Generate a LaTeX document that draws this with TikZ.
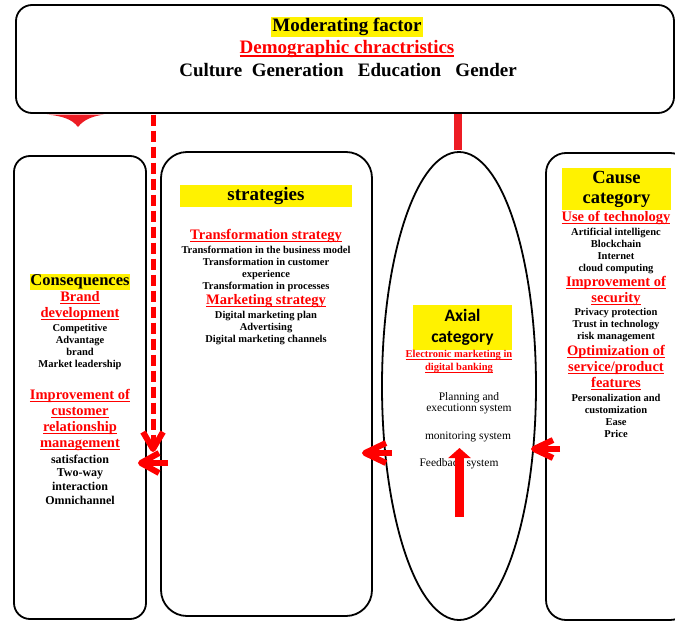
\documentclass[tikz,border=0pt]{standalone}
\usepackage{fontspec}
\setmainfont{Liberation Serif}
\newfontfamily\calfont{Carlito}
\usetikzlibrary{shapes.geometric,arrows.meta}
\definecolor{redA}{RGB}{237,28,36}
\newcommand\ulr[1]{\setbox0=\hbox{#1}\leavevmode\rlap{\rule[-0.16em]{\wd0}{0.075em}}\box0}
\begin{document}
\begin{tikzpicture}[x=1pt,y=-1pt,
  box/.style={draw, line width=1.8pt, inner sep=0pt},
  hl/.style={fill=yellow, inner sep=1pt},
  head/.style={text=red, font=\fontsize{14.5}{16}\selectfont\bfseries, align=center, inner sep=0pt},
  small/.style={font=\fontsize{10.5}{12}\selectfont\bfseries, align=center, inner sep=0pt},
  shaft/.style={draw=red, line width=5.5pt},
  chevarm/.style={draw=red, line width=6pt, line join=round},
  dashline/.style={draw=red, line width=5pt, dash pattern=on 11pt off 5pt}
]
\useasboundingbox (0,0) rectangle (675,621);
\clip (0,0) rectangle (675,621);

% boxes
\node[box, rounded corners=16pt, minimum width=658pt, minimum height=108pt] (top) at (345,59) {};
\node[box, rounded corners=16pt, minimum width=132pt, minimum height=463pt] (cons) at (80,387.5) {};
\node[box, rounded corners=26pt, minimum width=211pt, minimum height=464pt] (strat) at (266.5,384) {};
\node[box, ellipse, minimum width=154pt, minimum height=468pt] (ell) at (459,386) {};
\node[box, rounded corners=20pt, minimum width=144pt, minimum height=467pt] (cause) at (618,386.5) {};

% top box texts
\node[hl, font=\fontsize{19}{21}\selectfont\bfseries] (mf) at (347,27) {Moderating factor};
\node[head, font=\fontsize{19}{21}\selectfont\bfseries] (demo) at (347,49) {\ulr{Demographic chractristics}};
\node[inner sep=0pt, font=\fontsize{19}{21}\selectfont\bfseries] (cg) at (348,70) {Culture\hspace{0.5em}Generation\hspace{0.75em}Education\hspace{0.75em}Gender};

% consequences
\node[hl, inner sep=0.5pt, font=\fontsize{16.5}{18}\selectfont\bfseries] (consT) at (80,282) {Consequences};
\node[head] (bd) at (80,306) {\ulr{Brand}\\\ulr{development}};
\node[small] (bdl) at (80,346.5) {Competitive\\Advantage\\brand\\Market leadership};
\node[head] (crm) at (80,420) {\ulr{Improvement of}\\\ulr{customer}\\\ulr{relationship}\\\ulr{management}};
\node[small, font=\fontsize{12}{13.7}\selectfont\bfseries] (crml) at (80,479.5) {satisfaction\\Two-way\\interaction\\Omnichannel};

% strategies
\node[fill=yellow, minimum width=172pt, minimum height=22pt, inner sep=0pt, font=\fontsize{19}{20}\selectfont\bfseries] (stratT) at (266,196) {strategies};
\node[head] (ts) at (266,236) {\ulr{Transformation strategy}};
\node[small] (tsl) at (266,269) {Transformation in the business model\\Transformation in customer\\experience\\Transformation in processes};
\node[head] (ms) at (266,301) {\ulr{Marketing strategy}};
\node[small] (msl) at (266,328) {Digital marketing plan\\Advertising\\Digital marketing channels};

% axial
\node[fill=yellow, minimum width=99pt, minimum height=45pt, inner sep=0pt, align=center, font=\calfont\bfseries\fontsize{17.5}{21}\selectfont] (axT) at (462.5,327.5) {Axial\\category};
\node[head, font=\fontsize{10.5}{13}\selectfont\bfseries] (emdb) at (459,362) {\ulr{Electronic marketing in}\\\ulr{digital banking}};
\node[align=center, inner sep=0pt, font=\fontsize{11.5}{11.5}\selectfont] (pes) at (469,403) {Planning and\\executionn system};
\node[inner sep=0pt, font=\fontsize{11.5}{12}\selectfont] (mon) at (468,437) {monitoring system};
\node[inner sep=0pt, font=\fontsize{11.5}{12}\selectfont] (fb) at (459,464) {Feedback system};

% cause
\node[fill=yellow, minimum width=109pt, minimum height=42pt, inner sep=0pt, align=center, font=\fontsize{18.5}{20}\selectfont\bfseries] (causeT) at (616.5,189) {Cause\\category};
\node[head] (ut1) at (616,218) {\ulr{Use of technology}};
\node[small] (utl) at (616,250.5) {Artificial intelligenc\\Blockchain\\Internet\\cloud computing};
\node[head] (is) at (616,291) {\ulr{Improvement of}\\\ulr{security}};
\node[small] (isl) at (616,325.5) {Privacy protection\\Trust in technology\\risk management};
\node[head] (osp) at (616,368) {\ulr{Optimization of}\\\ulr{service/product}\\\ulr{features}};
\node[small] (ospl) at (616,416) {Personalization and\\customization\\Ease\\Price};

% connectors
\coordinate (a1s) at (392,453); \coordinate (a1e) at (365,453);
\coordinate (a2s) at (560,449); \coordinate (a2e) at (534,449);
\coordinate (dtop) at (153,114.5); \coordinate (dtip) at (153,449);
\coordinate (a3s) at (168,463); \coordinate (a3e) at (141,463);
\coordinate (ub) at (459.5,517); \coordinate (ut) at (459.5,448);

\draw[redA, line width=8pt] (top.south -| 457.5,0) -- ([yshift=1pt]ell.north -| 457.5,0);
\fill[redA] (47,114.5) .. controls (62,116) and (72,119) .. (78,127) .. controls (84,119) and (94,116) .. (104,114.5) -- cycle;

\draw[dashline] (dtop) -- (dtip);
\draw[chevarm] ([shift={(-10,-17)}]dtip) -- (dtip) -- ([shift={(10,-17)}]dtip);

\draw[shaft] (a3s) -- (a3e);
\draw[chevarm] ([shift={(18,-10)}]a3e) -- (a3e) -- ([shift={(18,10)}]a3e);

\draw[shaft] (a1s) -- (a1e);
\draw[chevarm] ([shift={(21,-10)}]a1e) -- (a1e) -- ([shift={(21,10)}]a1e);

\draw[shaft] (a2s) -- (a2e);
\draw[chevarm] ([shift={(19,-9)}]a2e) -- (a2e) -- ([shift={(19,9)}]a2e);

\draw[red, line width=9pt, -{Triangle[length=10pt,width=22pt]}] (ub) -- (ut);
\end{tikzpicture}
\end{document}
